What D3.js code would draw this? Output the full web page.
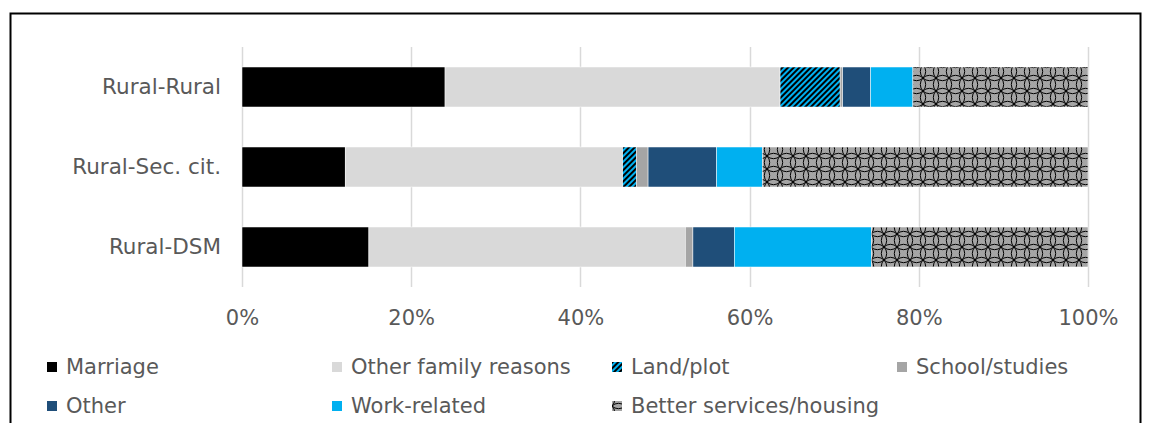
<!DOCTYPE html>
<html>
<head>
<meta charset="utf-8">
<script src="https://cdn.jsdelivr.net/npm/d3@7"></script>
<style>
  body { margin: 0; background: #fff; }
  svg { display: block; font-family: "DejaVu Sans", Verdana, sans-serif; }
</style>
</head>
<body>
<div id="chart"></div>
<script>
// Categories (top to bottom) and series, values in %
const categories = ["Rural-Rural", "Rural-Sec. cit.", "Rural-DSM"];
const seriesNames = ["Marriage", "Other family reasons", "Land/plot", "School/studies",
                     "Other", "Work-related", "Better services/housing"];
const marriage = [24.0, 12.2, 15.0];
const otherFamily = [39.6, 32.8, 37.4];
const landPlot = [7.1, 1.6, 0.0];
const school = [0.3, 1.4, 0.9];
const other = [3.3, 8.1, 4.9];
const workRelated = [5.0, 5.4, 16.2];
const betterServices = [20.7, 38.5, 25.6];
const xTicks = [0, 20, 40, 60, 80, 100];

const svgWidth = 1154;
const svgHeight = 423;

// plot area
const plot = { left: 242, right: 1088, top: 47, bottom: 287 };

const svg = d3.select("#chart").append("svg")
  .attr("width", svgWidth)
  .attr("height", svgHeight);

const defs = svg.append("defs");

// Land/plot: black + blue upward diagonal stripes
const stripes = defs.append("pattern")
  .attr("id", "pat-land")
  .attr("patternUnits", "userSpaceOnUse")
  .attr("width", 4).attr("height", 4)
  .attr("patternTransform", "rotate(45)");
stripes.append("rect").attr("width", 4).attr("height", 4).attr("fill", "#00B0F0");
stripes.append("rect").attr("width", 2).attr("height", 4).attr("fill", "#000");

// Better services/housing: gray with black lattice of overlapping circles
const ts = 13;
const trellis = defs.append("pattern")
  .attr("id", "pat-better")
  .attr("patternUnits", "userSpaceOnUse")
  .attr("width", ts).attr("height", ts);
trellis.append("rect").attr("width", ts).attr("height", ts).attr("fill", "#A5A5A5");
const offsets = [-1, 0, 1];
offsets.forEach(function(dx) {
  offsets.forEach(function(dy) {
    trellis.append("circle")
      .attr("cx", ts / 2 + dx * ts).attr("cy", ts / 2 + dy * ts)
      .attr("r", ts / Math.SQRT2)
      .attr("fill", "none").attr("stroke", "#000").attr("stroke-width", 1);
  });
});

const fills = ["#000000", "#D9D9D9", "url(#pat-land)", "#A5A5A5",
               "#1F4E79", "#00B0F0", "url(#pat-better)"];

// frame round the chart
svg.append("rect")
  .attr("x", 10.5).attr("y", 13.5)
  .attr("width", 1130).attr("height", 500)
  .attr("fill", "none").attr("stroke", "#000").attr("stroke-width", 2);

// build rows for stacking
const seriesValues = [marriage, otherFamily, landPlot, school, other, workRelated, betterServices];
const rows = categories.map(function(c, i) {
  const row = { category: c };
  seriesNames.forEach(function(s, j) { row[s] = seriesValues[j][i]; });
  return row;
});

const stacked = d3.stack().keys(seriesNames)(rows);

const x = d3.scaleLinear().domain([0, 100]).range([plot.left, plot.right]);
const y = d3.scaleBand().domain(categories).range([plot.top, plot.bottom])
  .paddingInner(0.5).paddingOuter(0.25);

// gridlines
svg.append("g")
  .selectAll("line")
  .data(xTicks)
  .enter()
  .append("line")
  .attr("x1", d => Math.round(x(d)) + 0.5)
  .attr("x2", d => Math.round(x(d)) + 0.5)
  .attr("y1", plot.top)
  .attr("y2", plot.bottom)
  .attr("stroke", "#D9D9D9")
  .attr("stroke-width", 1.5);

// bars
const layers = svg.append("g")
  .selectAll("g")
  .data(stacked)
  .enter()
  .append("g")
  .attr("fill", (d, i) => fills[i]);

layers.selectAll("rect")
  .data(d => d)
  .enter()
  .append("rect")
  .attr("x", d => x(d[0]))
  .attr("width", d => Math.max(0, x(d[1]) - x(d[0])))
  .attr("y", d => y(d.data.category))
  .attr("height", y.bandwidth())
  .attr("stroke", "#fff")
  .attr("stroke-width", 0.5);

// x axis (labels only)
const xAxis = d3.axisBottom(x)
  .tickValues(xTicks)
  .tickSize(0)
  .tickPadding(0)
  .tickFormat(d => d + "%");

const xg = svg.append("g")
  .attr("transform", "translate(0," + 310 + ")")
  .call(xAxis);
xg.select(".domain").remove();
xg.selectAll("text")
  .attr("fill", "#595959")
  .style("font-size", "21px")
  .style("font-family", "DejaVu Sans, Verdana, sans-serif");

// y axis (category labels only)
const yAxis = d3.axisLeft(y).tickSize(0).tickPadding(0);
const yg = svg.append("g")
  .attr("transform", "translate(" + 221 + ",0)")
  .call(yAxis);
yg.select(".domain").remove();
yg.selectAll("text")
  .attr("fill", "#595959")
  .style("font-size", "21.5px")
  .style("font-family", "DejaVu Sans, Verdana, sans-serif");

// legend
const legendX = [47, 332, 612, 897];
const legendY = [367, 406];
const legend = svg.append("g")
  .selectAll("g")
  .data(seriesNames)
  .enter()
  .append("g")
  .attr("transform", (d, i) => "translate(" + legendX[i % 4] + "," + legendY[Math.floor(i / 4)] + ")");

legend.append("rect")
  .attr("x", 0).attr("y", -5)
  .attr("width", 10).attr("height", 10)
  .attr("fill", (d, i) => fills[i]);

legend.append("text")
  .attr("x", 19)
  .attr("dy", "0.35em")
  .attr("fill", "#595959")
  .style("font-size", "21px")
  .text(d => d);
</script>
</body>
</html>
